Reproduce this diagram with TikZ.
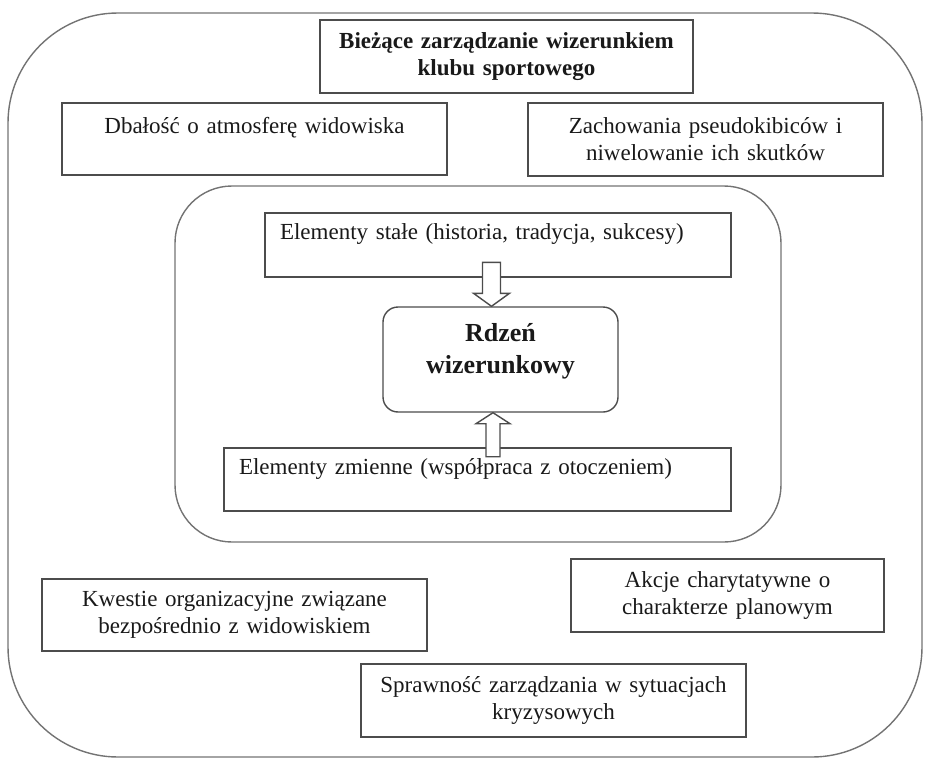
\documentclass[tikz,border=0pt]{standalone}
\usepackage{fontspec}
\setmainfont{Liberation Serif}
\usetikzlibrary{calc}
\definecolor{ramka-ciemna}{gray}{.3}
\definecolor{ramka-jasna}{gray}{.45}
\definecolor{tekst}{gray}{.1}

\begin{document}
\begin{tikzpicture}[x=0.5pt,y=-0.5pt,
    ramka/.style={draw=ramka-ciemna, line width=0.7pt, inner sep=0pt, align=center,
      text=tekst, font=\fontsize{11.5}{13.5}\selectfont},
    obszar/.style={draw=ramka-jasna, line width=0.7pt, inner sep=0pt},
    blok/.style={draw=ramka-ciemna, line width=0.7pt, fill=white, line join=miter}]
    \useasboundingbox (0,0) rectangle (927,760);
    % obszary zaokraglone
    \node[obszar, rounded corners=55pt, minimum width=457pt, minimum height=372pt] (calosc) at (465,385) {};
    \node[obszar, rounded corners=28.5pt, minimum width=303pt, minimum height=178pt] (wnetrze) at (478,364) {};
    % gorna czesc
    \node[ramka, font=\fontsize{11.5}{13.5}\selectfont\bfseries, text width=186.5pt, minimum height=36.5pt] (naglowek) at (506.5,56.5) {Bieżące zarządzanie wizerunkiem\\klubu sportowego};
    \node[ramka, text width=192.5pt, minimum height=36pt] (atmosfera) at (254.5,139) {Dbałość o atmosferę widowiska\\~};
    \node[ramka, text width=177.5pt, minimum height=36.5pt] (pseudokibice) at (705.5,139.5) {Zachowania pseudokibiców i\\niwelowanie ich skutków};
    % rdzen
    \node[ramka, align=left, inner xsep=7.5pt, text width=218pt, minimum height=32pt] (stale) at (498,245) {Elementy stałe (historia, tradycja, sukcesy)\\~};
    \node[ramka, rounded corners=7.5pt, font=\fontsize{13}{16}\selectfont\bfseries, text width=117.5pt, minimum height=52.5pt] (rdzen) at (500.5,359.5) {Rdzeń\\wizerunkowy\\[-5pt]~};
    \node[ramka, align=left, inner xsep=7.5pt, text width=238.5pt, minimum height=31.5pt] (zmienne) at (477.5,479.5) {Elementy zmienne (współpraca z otoczeniem)\\~};
    \draw[blok] ($(rdzen.north)+(-9,0)$) -- ++(18,-13) -- ++(-9,0) -- ++(0,-31) -- ++(-18,0) -- ++(0,31) -- ++(-9,0) -- cycle;
    \draw[blok] ($(rdzen.south)+(-7.5,0)$) -- ++(17,11) -- ++(-10,0) -- ++(0,33) -- ++(-14,0) -- ++(0,-33) -- ++(-10,0) -- cycle;
    % dolna czesc
    \node[ramka, text width=192.5pt, minimum height=36pt] (organizacja) at (234.5,615) {Kwestie organizacyjne związane\\bezpośrednio z widowiskiem};
    \node[ramka, text width=156.5pt, minimum height=36.5pt] (akcje) at (727.5,595.5) {Akcje charytatywne o\\charakterze planowym};
    \node[ramka, text width=192.5pt, minimum height=36.5pt] (kryzys) at (553.5,700.5) {Sprawność zarządzania w sytuacjach\\kryzysowych};
  \end{tikzpicture}
\end{document}
